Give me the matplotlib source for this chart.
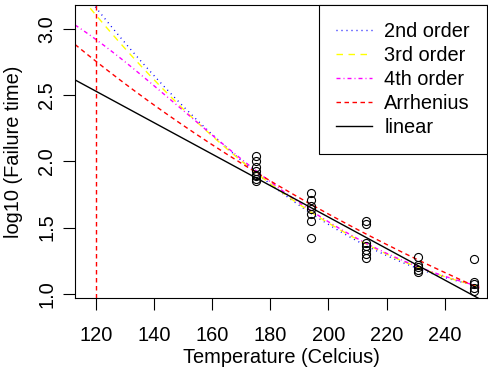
import matplotlib
matplotlib.use("Agg")
import matplotlib.pyplot as plt
import numpy as np

# failure times (log10), grouped by test temperature
temp_levels = [175, 194, 213, 231, 250]
logtime_175 = [2.04, 2.00, 1.96, 1.93, 1.90, 1.89, 1.87, 1.85]
logtime_194 = [1.76, 1.71, 1.66, 1.64, 1.60, 1.55, 1.42]
logtime_213 = [1.55, 1.53, 1.38, 1.36, 1.33, 1.30, 1.27]
logtime_231 = [1.28, 1.22, 1.20, 1.18, 1.16]
logtime_250 = [1.26, 1.09, 1.07, 1.04, 1.02]
use_temp = 120

# fitted models, polynomials in u = T - 200 (lowest power first)
fit_linear = [1.579, -0.01188]
fit_order2 = [1.5234, -0.013493, 8.691e-5]
fit_order3 = [1.5342, -0.013264, 7.852e-5, -1.0125e-8]
fit_order4 = [1.5434, -0.013574, 8.1895e-5, 1.5816e-7, -3.7146e-9]
# Arrhenius: log10(t) = a + b / (T + 273.15)
fit_arrh = [-4.062, 2680.0]

groups = [logtime_175, logtime_194, logtime_213, logtime_231, logtime_250]
temp = np.concatenate([[t] * len(g) for t, g in zip(temp_levels, groups)]).astype(float)
logt = np.concatenate(groups)

plt.rcParams["font.family"] = "Liberation Sans"
plt.rcParams["font.size"] = 14.4
plt.rcParams["lines.scale_dashes"] = False

fig = plt.figure(figsize=(4.89, 3.71), dpi=100)
ax = fig.add_axes([75 / 489, 1 - 298 / 371, (487 - 75) / 489, (298 - 5) / 371])

xlo, xhi = 112.6, 254.65
ylo, yhi = 0.967, 3.184

def poly(c, T):
    u = T - 200.0
    return sum(ci * u ** i for i, ci in enumerate(c))

tt = np.linspace(xlo, 252, 300)
px = 0.72  # one pixel in points
lw = 1.0
ax.plot(tt, poly(fit_order2, tt), color="blue", ls=(0, (1 * px, 4 * px)), lw=lw, label="2nd order")
ax.plot(tt, poly(fit_order3, tt), color="yellow", ls=(0, (6.5 * px, 5.5 * px)), lw=lw, label="3rd order")
ax.plot(tt, poly(fit_order4, tt), color="magenta", ls=(0, (4 * px, 3 * px, 1 * px, 3 * px)), lw=lw,
        label="4th order")
ax.plot(tt, fit_arrh[0] + fit_arrh[1] / (tt + 273.15), color="red", ls=(0, (4.5 * px, 3.5 * px)), lw=lw,
        label="Arrhenius")
ax.plot(tt, poly(fit_linear, tt), color="black", lw=lw, label="linear")
ax.axvline(use_temp, color="red", ls=(0, (4.5 * px, 3.5 * px)), lw=lw)

ax.plot(temp, logt, ls="none", marker="o", mfc="none", mec="black", ms=5.8, mew=0.8)

ax.set_xlim(xlo, xhi)
ax.set_ylim(ylo, yhi)
ax.set_xticks([120, 140, 160, 180, 200, 220, 240])
ax.set_yticks([1.0, 1.5, 2.0, 2.5, 3.0])
ax.set_yticklabels(["1.0", "1.5", "2.0", "2.5", "3.0"], rotation=90, va="center")
ax.tick_params(direction="out", length=8.6, width=0.8)
ax.tick_params(axis="x", pad=11.5)
ax.tick_params(axis="y", pad=5)
for s in ax.spines.values():
    s.set_linewidth(0.8)
ax.set_xlabel("Temperature (Celcius)", labelpad=2.5)
ax.set_ylabel("log10 (Failure time)", labelpad=10)

leg = ax.legend(loc="upper right", borderaxespad=0, fancybox=False, framealpha=1,
                edgecolor="black", handlelength=1.8, handletextpad=0.6,
                borderpad=0.85, labelspacing=0.25)
leg.get_frame().set_linewidth(0.8)

fig.savefig("out.png", dpi=100)
